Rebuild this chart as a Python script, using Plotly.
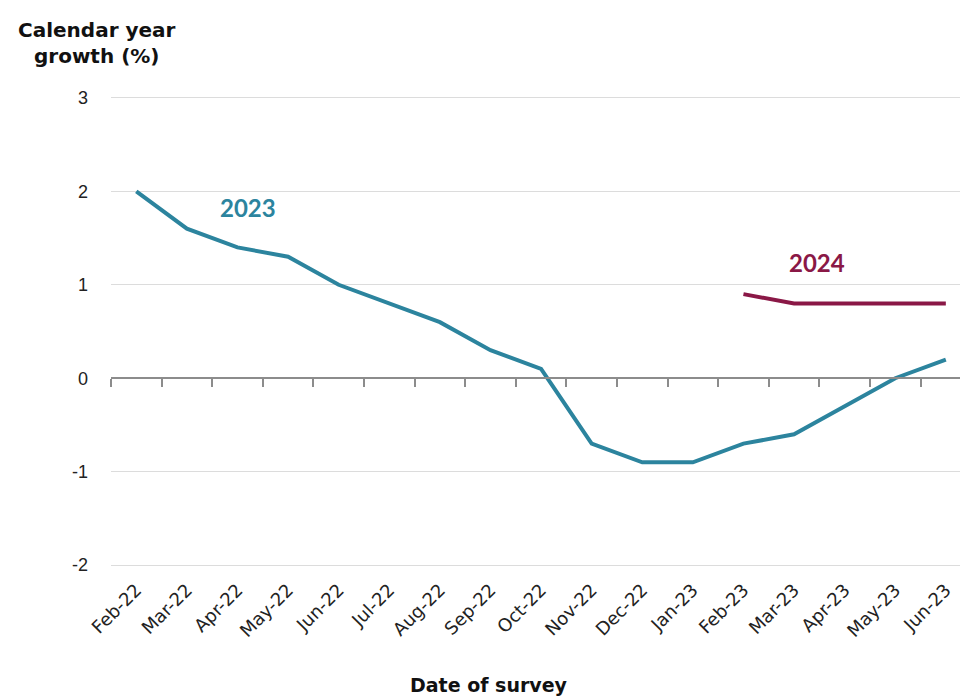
import plotly.graph_objects as go

months = ["Feb-22", "Mar-22", "Apr-22", "May-22", "Jun-22", "Jul-22", "Aug-22", "Sep-22",
          "Oct-22", "Nov-22", "Dec-22", "Jan-23", "Feb-23", "Mar-23", "Apr-23", "May-23", "Jun-23"]
growth_2023 = [2.0, 1.6, 1.4, 1.3, 1.0, 0.8, 0.6, 0.3, 0.1, -0.7, -0.9, -0.9, -0.7, -0.6, -0.3, 0.0, 0.2]
months_2024 = ["Feb-23", "Mar-23", "Apr-23", "May-23", "Jun-23"]
growth_2024 = [0.9, 0.8, 0.8, 0.8, 0.8]
y_ticks = [-2, -1, 0, 1, 2, 3]
y_tick_text = ["-2", "-1", "0", "1", "2", "3"]

idx = {m: i for i, m in enumerate(months)}
x23 = [idx[m] for m in months]
x24 = [idx[m] for m in months_2024]

TEAL = "#2C849E"
MAROON = "#8A1846"
FONT = "Lato"
TFONT = "DejaVu Sans"

fig = go.Figure()
# invisible trace so the zero-line axis is rendered
fig.add_trace(go.Scatter(x=x23, y=growth_2023, mode="lines", line=dict(width=0),
                         opacity=0, hoverinfo="skip", xaxis="x"))
fig.add_trace(go.Scatter(x=x23, y=growth_2023, mode="lines", name="2023",
                         line=dict(color=TEAL, width=4), xaxis="x2"))
fig.add_trace(go.Scatter(x=x24, y=growth_2024, mode="lines", name="2024",
                         line=dict(color=MAROON, width=4), xaxis="x2"))

xr = [-0.5, 16.28]
yr = [-2.02, 3.02]
fig.update_layout(
    width=960, height=696,
    margin=dict(l=111, r=0, t=96, b=129),
    paper_bgcolor="white", plot_bgcolor="white",
    showlegend=False,
    font=dict(family=FONT, color="#222222"),
    xaxis=dict(range=xr, anchor="free", position=(0 - yr[0]) / (yr[1] - yr[0]),
               showline=True, linecolor="#8c8c8c",
               linewidth=1.5, ticks="outside", ticklen=8, tickcolor="#8c8c8c", tickwidth=1.5,
               tickmode="array", tickvals=[i - 0.5 for i in range(len(months) + 1)],
               showticklabels=False, showgrid=False, zeroline=False, fixedrange=True),
    xaxis2=dict(range=xr, overlaying="x", anchor="y", side="bottom", showline=False,
                tickmode="array", tickvals=list(range(len(months))), ticktext=months,
                tickangle=-45, ticks="", showgrid=False, zeroline=False, ticklabelstandoff=8,
                tickfont=dict(size=18, family=TFONT, color="#222222")),
    yaxis=dict(range=yr, tickmode="array", tickvals=y_ticks, ticktext=y_tick_text,
               showgrid=True, gridcolor="#dcdcdc", gridwidth=1.2, zeroline=False,
               showline=False, ticks="", ticklabelstandoff=22,
               tickfont=dict(size=18, family="Liberation Sans", color="#222222")),
)

fig.add_annotation(x=2.2, y=1.83, xref="x2", yref="y", text="<b>2023</b>", showarrow=False,
                   font=dict(size=24, color=TEAL, family=FONT))
fig.add_annotation(x=13.46, y=1.24, xref="x2", yref="y", text="<b>2024</b>", showarrow=False,
                   font=dict(size=24, color=MAROON, family=FONT))
fig.add_annotation(x=-0.0165, y=1.1125, xref="paper", yref="paper", xanchor="center",
                   yanchor="middle",
                   text="<b>Calendar year<br>growth (%)</b>", showarrow=False, align="center",
                   font=dict(size=20, color="#111111", family=TFONT))
fig.add_annotation(x=0.445, y=-0.2505, xref="paper", yref="paper", xanchor="center",
                   yanchor="middle", text="<b>Date of survey</b>",
                   showarrow=False, font=dict(size=19, color="#111111", family=TFONT))

fig.write_html("out.html")
